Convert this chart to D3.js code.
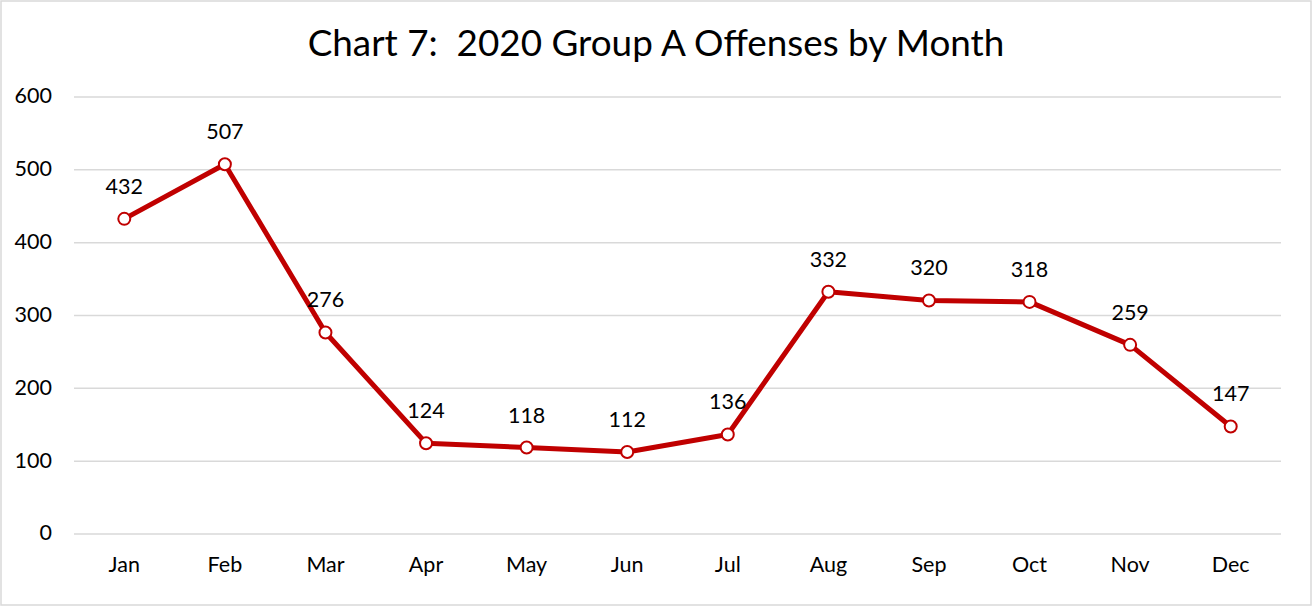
<!DOCTYPE html>
<html><head><meta charset="utf-8">
<script src="https://cdn.jsdelivr.net/npm/d3@7"></script>
<style>body{margin:0;background:#fff}svg{display:block}</style>
</head><body>
<script>
const months = ["Jan","Feb","Mar","Apr","May","Jun","Jul","Aug","Sep","Oct","Nov","Dec"];
const offenses = [432,507,276,124,118,112,136,332,320,318,259,147];
const yTicks = [0,100,200,300,400,500,600];
const title = "Chart 7:  2020 Group A Offenses by Month";

const W = 1312, H = 606;
const font = "Lato, 'Open Sans', sans-serif";
const svg = d3.select("body").append("svg").attr("width", W).attr("height", H);
svg.append("rect").attr("x",1).attr("y",1).attr("width",W-2).attr("height",H-2)
  .attr("fill","#fff").attr("stroke","#d9d9d9").attr("stroke-width",1.5);

const x = d3.scaleBand().domain(months).range([74,1281]);
const y = d3.scaleLinear().domain([0,600]).range([533.5,96.5]);

const t = svg.append("text").attr("x",656).attr("y",56).attr("text-anchor","middle")
  .style("white-space","pre").attr("xml:space","preserve")
  .attr("font-family",font).attr("font-size",34).attr("fill","#000").text(title);
const tw = t.node().getComputedTextLength();
t.attr("font-size", 34*697/tw);

const gy = svg.append("g").attr("transform","translate(74,0)")
  .call(d3.axisLeft(y).tickValues(yTicks).tickSize(-(1281-74)).tickPadding(22));
gy.select(".domain").remove();
gy.selectAll(".tick line").attr("stroke","#d9d9d9").attr("stroke-width",1.5);
gy.selectAll(".tick text").attr("font-family",font).attr("font-size",21.5).attr("fill","#000").attr("dy","0.3em");

const gx = svg.append("g").attr("transform","translate(0,533.5)")
  .call(d3.axisBottom(x).tickSize(0).tickPadding(22));
gx.select(".domain").remove();
gx.selectAll(".tick text").attr("font-family",font).attr("font-size",21.5).attr("fill","#000").attr("dy","0.75em");

const cx = d => x(d) + x.bandwidth()/2;
const line = d3.line().x((d,i)=>cx(months[i])).y(d=>y(d));
svg.append("path").datum(offenses).attr("d",line).attr("fill","none")
  .attr("stroke","#C00000").attr("stroke-width",5).attr("stroke-linejoin","round");
svg.selectAll("circle.pt").data(offenses).join("circle").attr("class","pt")
  .attr("cx",(d,i)=>cx(months[i])).attr("cy",d=>y(d)).attr("r",6)
  .attr("fill","#fff").attr("stroke","#C00000").attr("stroke-width",2);
svg.selectAll("text.lbl").data(offenses).join("text").attr("class","lbl")
  .attr("x",(d,i)=>cx(months[i])).attr("y",d=>y(d)-25).attr("text-anchor","middle")
  .attr("font-family",font).attr("font-size",21.5).attr("fill","#000").text(d=>d);
</script>
</body></html>
